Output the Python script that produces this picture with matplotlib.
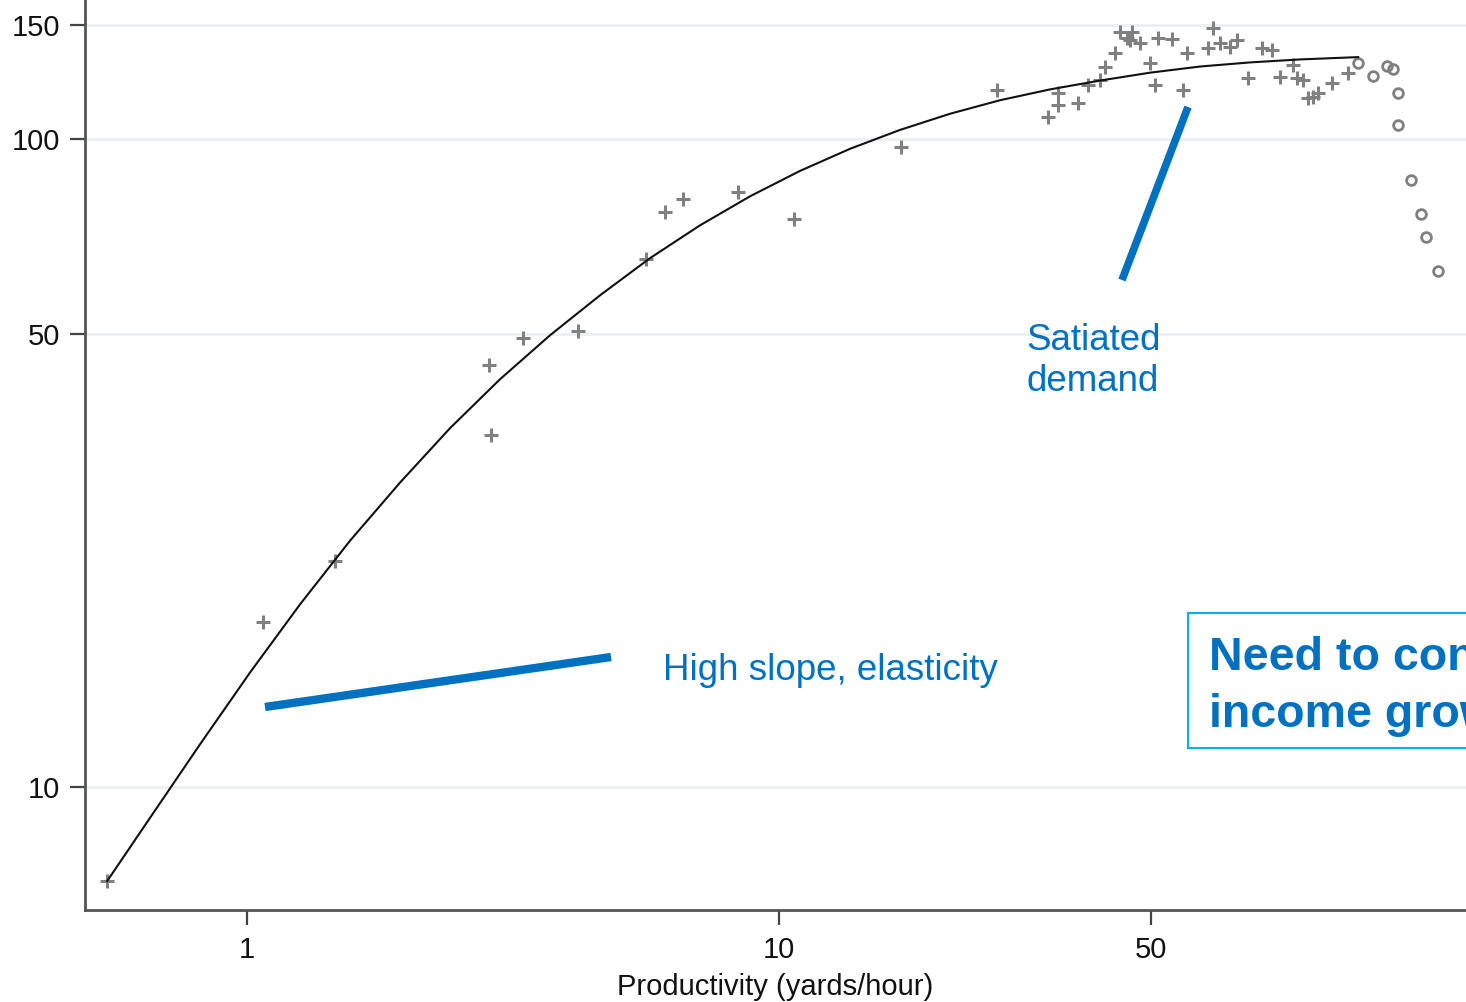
import matplotlib
matplotlib.use('Agg')
import matplotlib.pyplot as plt
from matplotlib.lines import Line2D
from matplotlib.patches import Rectangle

plt.rcParams['font.family'] = ['Liberation Sans', 'DejaVu Sans']

# in-sample observations (plus markers)
obs_x = [0.546, 1.072, 1.463, 2.85, 2.875, 3.30, 4.19, 5.62, 6.11, 6.60, 8.38, 10.67,
         16.96, 25.7, 32.0, 33.45, 33.45, 36.5, 38.1, 40.1, 41.0, 42.8, 43.75, 46.1,
         45.1, 45.7, 47.7, 49.8, 50.9, 51.6, 54.8, 58.5, 57.5, 64.0, 65.4, 67.5,
         70.4, 72.6, 76.1, 80.9, 84.5, 87.4, 92.5, 94.1, 96.6, 98.7, 100.9, 103.1,
         109.5, 117.4]
obs_y = [7.16, 18.0, 22.3, 44.8, 34.9, 49.3, 50.5, 65.3, 77.2, 80.8, 82.8, 75.2,
         97.2, 119.0, 108.1, 112.8, 117.8, 113.6, 121.2, 123.3, 129.1, 135.7, 146.3, 146.3,
         143.2, 142.1, 140.6, 131.0, 121.2, 143.2, 142.7, 135.7, 119.0, 138.2, 148.4, 140.6,
         138.7, 142.1, 124.2, 138.2, 137.2, 124.7, 130.1, 124.2, 123.3, 115.7, 116.1, 117.8,
         122.0, 126.5]

# out-of-sample observations (hollow circles)
out_x = [122.5, 130.8, 139.0, 142.6, 145.7, 145.7, 154.2, 161.0, 164.5, 173.3]
out_y = [131.0, 125.1, 129.7, 128.2, 117.8, 105.1, 86.4, 76.6, 70.6, 62.6]

# fitted curve
fit_x = [0.546, 0.657, 0.816, 1.013, 1.258, 1.562, 1.939, 2.408, 2.990, 3.712,
         4.609, 5.722, 7.105, 8.822, 10.95, 13.60, 16.88, 20.96, 26.03, 32.32,
         40.12, 49.82, 61.86, 76.80, 95.35, 122.6]
fit_y = [7.16, 8.96, 11.64, 15.02, 19.14, 24.0, 29.5, 35.8, 42.6, 49.8,
         57.4, 65.5, 73.6, 81.6, 89.3, 96.6, 103.3, 109.4, 114.8, 119.3,
         123.1, 126.6, 129.4, 131.3, 132.7, 133.8]

x_ticks = [1, 10, 50]
y_ticks = [10, 50, 100, 150]

blue = '#0070c0'
grey = '#808080'
W, H = 1466, 1002

fig = plt.figure(figsize=(W / 100, H / 100), dpi=100)
ax = fig.add_axes([85 / W, 92 / H, 1 - 85 / W, 1 - 92 / H])
ax.set_xscale('log')
ax.set_yscale('log')
ax.set_xlim(0.496, 195.5)
ax.set_ylim(6.46, 163.9)

for t in y_ticks:
    ax.axhline(t, color='#e9f0f2', lw=2, zorder=0)

ax.plot(obs_x, obs_y, ls='none', marker='+', ms=10, mew=2.2, color=grey, zorder=2)
ax.plot(out_x, out_y, ls='none', marker='o', ms=7, mew=2, mfc='none', mec=grey, zorder=2)
ax.plot(fit_x, fit_y, color='#111111', lw=1.5, solid_joinstyle='round', zorder=3)

ax.minorticks_off()
ax.set_xticks(x_ticks)
ax.set_xticklabels([str(t) for t in x_ticks])
ax.set_yticks(y_ticks)
ax.set_yticklabels([str(t) for t in y_ticks])
ax.tick_params(axis='both', which='major', labelsize=21, length=11, width=1.6,
               color='#444444', labelcolor='#111111')
ax.tick_params(axis='y', pad=7)
ax.tick_params(axis='x', pad=8)
ax.set_xlabel('Productivity (yards/hour)', fontsize=21, color='#111111', labelpad=6)

for side in ['top', 'right']:
    ax.spines[side].set_visible(False)
for side in ['left', 'bottom']:
    ax.spines[side].set_color('#555555')
    ax.spines[side].set_linewidth(2)

# annotations
fig.add_artist(Line2D([265 / W, 611 / W], [1 - 707 / H, 1 - 657 / H],
                      color=blue, lw=6, solid_capstyle='butt'))
fig.add_artist(Line2D([1188 / W, 1122 / W], [1 - 107 / H, 1 - 280 / H],
                      color=blue, lw=5.5, solid_capstyle='butt'))
fig.text(663 / W, 1 - 670 / H, 'High slope, elasticity', color=blue,
         fontsize=26.5, va='center', ha='left')
fig.text(1026 / W, 1 - 361 / H, 'Satiated\ndemand', color=blue,
         fontsize=26.5, va='center', ha='left', linespacing=1.25)

fig.add_artist(Rectangle((1188 / W, 1 - 748 / H), 400 / W, 135 / H,
                         transform=fig.transFigure, fc='white', ec='#00b0f0', lw=1.5))
fig.text(1209 / W, 1 - 670 / H, 'Need to control for', color=blue,
         fontsize=33.5, fontweight='bold', va='baseline', ha='left')
fig.text(1209 / W, 1 - 727 / H, 'income growth', color=blue,
         fontsize=33.5, fontweight='bold', va='baseline', ha='left')

fig.savefig('out.png', dpi=100)
